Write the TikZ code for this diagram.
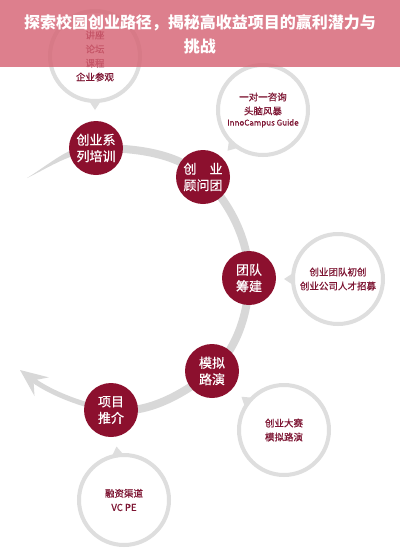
\documentclass[tikz,border=0pt]{standalone}
\usepackage{fontspec}
\setmainfont{Noto Sans CJK SC}
\newfontfamily\semibold{Noto Sans CJK SC}[FakeBold=0.6]
\usetikzlibrary{arrows.meta,calc}
\definecolor{dred}{RGB}{140,16,46}
\definecolor{arcgray}{RGB}{216,216,216}
\definecolor{ringgray}{RGB}{222,222,222}
\definecolor{txtred}{RGB}{125,20,50}
\definecolor{bannerpink}{RGB}{214,100,116}
\begin{document}
\begin{tikzpicture}[x=1pt,y=-1pt,
  dark/.style={circle,fill=dred,minimum size=54pt,inner sep=0pt,text=white,
    font=\semibold\fontsize{13}{16.5}\selectfont,align=center},
  ring/.style={circle,draw=ringgray,line width=4pt,minimum size=90pt,inner sep=0pt,
    text=txtred,font=\semibold\fontsize{9.5}{14}\selectfont,align=center},
  arcline/.style={draw=arcgray,line cap=butt},
]
\useasboundingbox (0,0) rectangle (400,552);
\fill[white] (0,0) rectangle (400,552);
% path coordinates
\coordinate (t) at (27,178);
\coordinate (p1) at (96,148);
\coordinate (p2) at (203,177);
\coordinate (p3) at (249,278);
\coordinate (p4) at (212,371);
\coordinate (p5) at (111,410);
\coordinate (a) at (20,370);
% tapering tail
\fill[arcgray] (t) .. controls (50,164) and (71,144) .. ($(p1)+(0,-4)$)
  -- ($(p1)+(0,4)$) .. controls (71,152) and (50,167) .. (t);
% main arc
\draw[arcline,line width=8pt] (p1) .. controls (133,148) and (176,152) .. (p2)
  .. controls (230,202) and (249,241) .. (p3)
  .. controls (249,311) and (237,350) .. (p4)
  .. controls (184,394) and (147,415) .. (p5);
% end with arrow
\draw[arcline,line width=5pt,-{Stealth[length=27pt,width=23pt,inset=10pt]}]
  (p5) .. controls (78,405) and (46,390) .. (a);
% dark nodes
\node[dark] (n1) at (p1) {创业系\\列培训};
\node[dark] (n2) at (p2) {创\hspace{1em}业\\顾问团};
\node[dark] (n3) at (p3) {团队\\筹建};
\node[dark] (n4) at (p4) {模拟\\路演};
\node[dark] (n5) at (p5) {项目\\推介};
% ring nodes
\node[ring] (r1) at (95,56) {讲座\\论坛\\课程\\企业参观};
\node[ring] (r2) at (263,110) {一对一咨询\\头脑风暴\\[-3pt]{\fontsize{8}{10}\selectfont InnoCampus Guide}};
\node[ring] (r3) at (338,279) {创业团队初创\\创业公司人才招募};
\node[ring] (r4) at (284,430) {创业大赛\\模拟路演};
\node[ring] (r5) at (124,500) {融资渠道\\VC PE};
% pointers
\foreach \c/\ang in {r1/90, r2/131, r3/180, r4/218, r5/262} {
  \fill[ringgray] ($(\c)+(\ang:54)$) -- ($(\c)+(\ang+9:44)$) -- ($(\c)+(\ang-9:44)$) -- cycle;
}
% banner
\fill[bannerpink,fill opacity=0.82] (0,0) rectangle (400,67);
\node[text=white,font=\fontsize{16}{24}\selectfont\bfseries,align=center] (title) at (200,34)
  {探索校园创业路径，揭秘高收益项目的赢利潜力与\\挑战};
\end{tikzpicture}
\end{document}
